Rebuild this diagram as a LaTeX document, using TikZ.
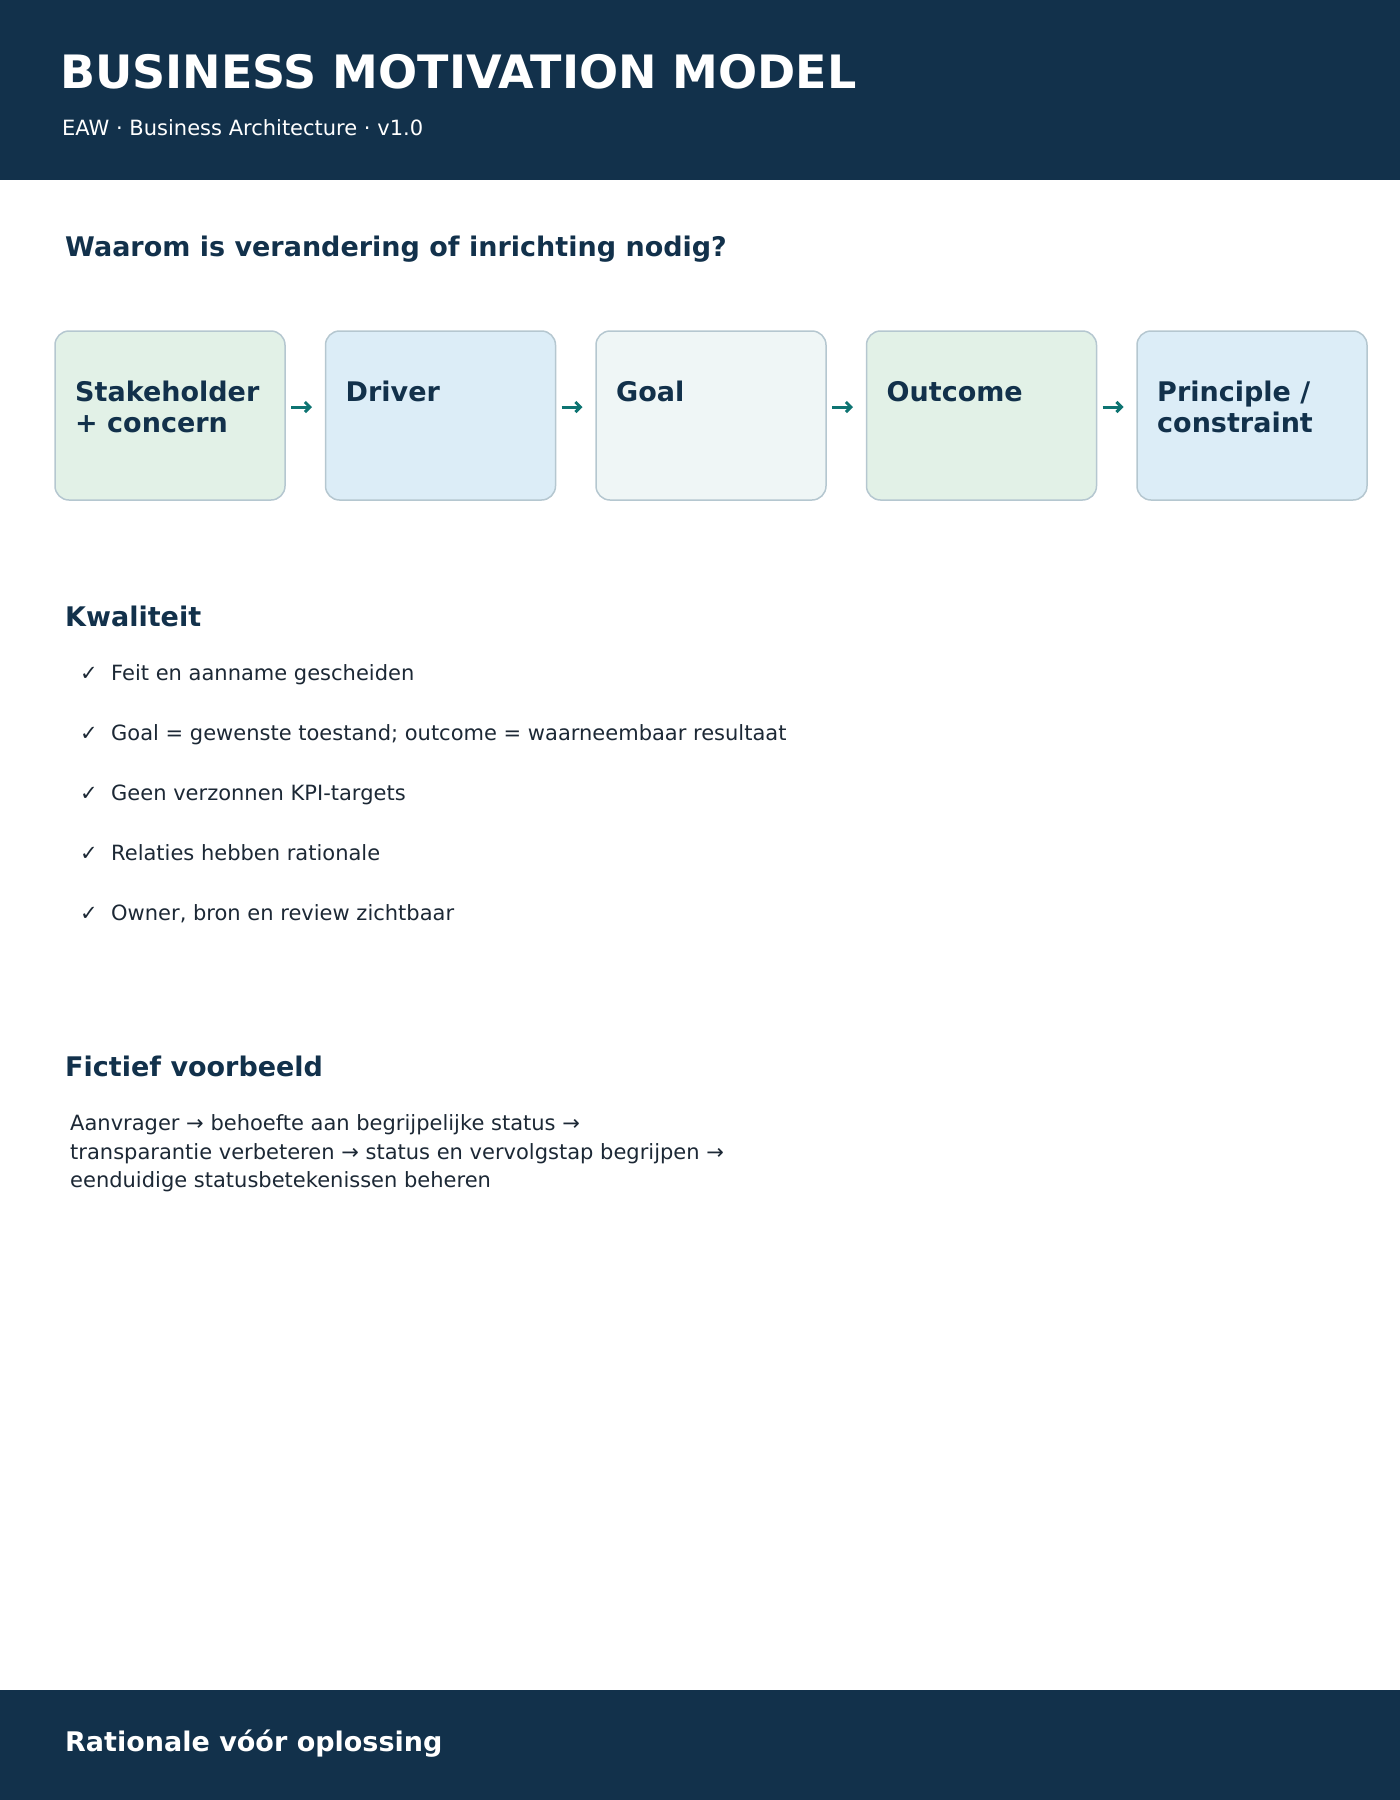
\documentclass[tikz,border=0pt]{standalone}
\usepackage{fontspec}
\setmainfont{DejaVu Sans}
\usetikzlibrary{arrows.meta}
\definecolor{navy}{HTML}{12314B}
\definecolor{inkdark}{HTML}{1C2835}
\definecolor{teal}{HTML}{0E7472}
\definecolor{edge}{HTML}{B5C7D0}
\definecolor{mint}{HTML}{E2F1E7}
\definecolor{sky}{HTML}{DCEDF7}
\definecolor{frost}{HTML}{EFF6F6}
\begin{document}
\begin{tikzpicture}[x=1pt,y=-1pt,
band/.style={%
fill=navy
},
title/.style={%
anchor=base west,
inner sep=0,
text=white,
font=\fontsize{46}{55}\selectfont\bfseries
},
subtitle/.style={%
anchor=base west,
inner sep=0,
text=white,
font=\fontsize{21}{25}\selectfont
},
heading/.style={%
anchor=base west,
inner sep=0,
text=navy,
font=\fontsize{27}{31}\selectfont\bfseries
},
bmmbox/.style={%
anchor=north west,
draw=edge,
line width=1.5,
rounded corners=14,
minimum width=230,
minimum height=169,
outer sep=0,
inner sep=0
},
boxtext/.style={%
anchor=north west,
inner sep=0,
align=left,
text=navy,
font=\fontsize{27}{31}\selectfont\bfseries
},
flow/.style={%
draw=teal,
line width=3,
shorten <=6,
shorten >=13.5,
-{Straight Barb[length=5,width=10]}
},
tick/.style={%
anchor=base west,
inner sep=0,
text=inkdark,
font=\fontsize{21}{25}\selectfont
},
item/.style={%
anchor=base west,
inner sep=0,
text=inkdark,
font=\fontsize{21}{25}\selectfont
},
]
\useasboundingbox (0,0) rectangle (1400,1800);
%% Header and footer
\path[band] (0,0) rectangle (1400,180);
\path[band] (0,1690) rectangle (1400,1800);
\node[title] (ttl) at (60,88) {BUSINESS MOTIVATION MODEL};
\node[subtitle] (sub) at (62,135) {EAW · Business Architecture · v1.0};
\node[heading,text=white] (foot) at (65,1751) {Rationale vóór oplossing};
%% Chain
\node[heading] (why) at (65,256) {Waarom is verandering of inrichting nodig?};
\node[bmmbox,fill=mint] (stake) at (55,331) {};
\node[bmmbox,fill=sky] (driver) at (325.5,331) {};
\node[bmmbox,fill=frost] (goal) at (596,331) {};
\node[bmmbox,fill=mint] (outcome) at (866.5,331) {};
\node[bmmbox,fill=sky] (princ) at (1137,331) {};
\node[boxtext] (stakeT) at ([xshift=20,yshift=-50]stake.north west) {Stakeholder\\+ concern};
\node[boxtext] (driverT) at ([xshift=20,yshift=-50]driver.north west) {Driver};
\node[boxtext] (goalT) at ([xshift=20,yshift=-50]goal.north west) {Goal};
\node[boxtext] (outcomeT) at ([xshift=20,yshift=-50]outcome.north west) {Outcome};
\node[boxtext] (princT) at ([xshift=20,yshift=-50]princ.north west) {Principle /\\constraint};
\draw[flow] ([yshift=8.5]stake.east) -- ([yshift=8.5]driver.west);
\draw[flow] ([yshift=8.5]driver.east) -- ([yshift=8.5]goal.west);
\draw[flow] ([yshift=8.5]goal.east) -- ([yshift=8.5]outcome.west);
\draw[flow] ([yshift=8.5]outcome.east) -- ([yshift=8.5]princ.west);
%% Kwaliteit
\node[heading] (qual) at (65,626) {Kwaliteit};
\node[tick] (c1) at (80,680) {✓};
\node[item] (q1) at (111,680) {Feit en aanname gescheiden};
\node[tick] (c2) at (80,740) {✓};
\node[item] (q2) at (111,740) {Goal = gewenste toestand; outcome = waarneembaar resultaat};
\node[tick] (c3) at (80,800) {✓};
\node[item] (q3) at (111,800) {Geen verzonnen KPI-targets};
\node[tick] (c4) at (80,860) {✓};
\node[item] (q4) at (111,860) {Relaties hebben rationale};
\node[tick] (c5) at (80,920) {✓};
\node[item] (q5) at (111,920) {Owner, bron en review zichtbaar};
%% Voorbeeld
\node[heading] (ex) at (65,1076) {Fictief voorbeeld};
\node[item,anchor=north west,align=left,font=\fontsize{21}{28.5}\selectfont] (exT) at (70,1114.5)
{Aanvrager → behoefte aan begrijpelijke status →\\
transparantie verbeteren → status en vervolgstap begrijpen →\\
eenduidige statusbetekenissen beheren};
\end{tikzpicture}
\end{document}
